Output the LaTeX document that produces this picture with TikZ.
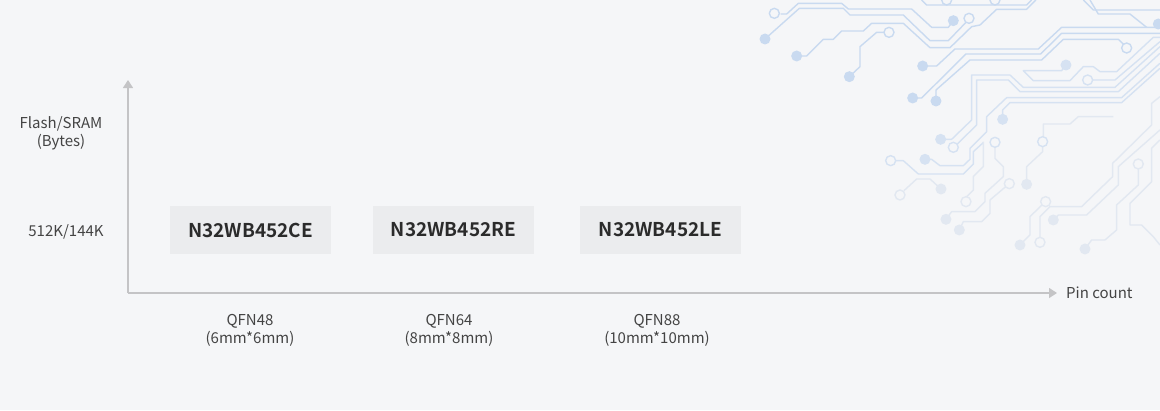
\documentclass[tikz,border=0pt]{standalone}
\usepackage{fontspec}
\setmainfont{Noto Sans CJK SC}[BoldFont={Noto Sans CJK SC Bold}]
\definecolor{bgc}{HTML}{F5F6F8}
\definecolor{boxc}{HTML}{EBECEE}
\definecolor{axisc}{HTML}{C4C4C6}
\definecolor{txtc}{HTML}{444444}
\definecolor{boldc}{HTML}{2B2B2B}
\definecolor{ca}{HTML}{C9DAF0}
\definecolor{cb}{HTML}{D6E2F2}
\definecolor{cc}{HTML}{E2E8F1}
\usetikzlibrary{arrows.meta}
\begin{document}
\begin{tikzpicture}[x=1pt,y=-1pt,
  chip/.style={fill=boxc,minimum width=161pt,minimum height=48pt,inner sep=0pt,font=\fontsize{19}{23}\selectfont\bfseries,text=boldc},
  lab/.style={font=\fontsize{15}{19}\selectfont,text=txtc,align=center,inner sep=0pt},
  axisline/.style={draw=axisc,line width=1.2pt,-{Triangle[width=10pt,length=8pt]}},
  trace/.style={line width=1.4pt,line join=round},
  padopen/.style={circle,draw=#1,line width=1.4pt,fill=bgc,minimum size=10pt,inner sep=0pt},
  padfill/.style={circle,fill=#1,minimum size=11pt,inner sep=0pt}]
\fill[bgc] (0,0) rectangle (1160,410);
\useasboundingbox (0,0) rectangle (1160,410);
% circuit decoration
\begin{scope}[xshift=750pt,x=0.3333pt,y=-0.3333pt]
\begin{scope}[trace,draw=ca]
\draw (92,42)--(110,42)--(145,10)--(275,10)--(295,27)--(485,27)--(545,82)--(595,82)--(610,62);
\draw (45,117)--(148,25)--(280,25)--(300,45)--(460,45)--(540,122)--(595,122)--(650,65);
\draw (140,168)--(170,168)--(220,118)--(250,118)--(275,93)--(340,93)--(365,70)--(460,70)--(540,143)--(600,143)--(665,80)--(690,75)--(740,28)--(830,28)--(858,0);
\draw (403,97)--(380,97)--(330,140)--(330,200)--(298,230);
\draw (518,198)--(560,198)--(615,147)--(865,147)--(935,82)--(1230,82);
\draw (488,294)--(515,294)--(648,162)--(872,162)--(935,100)--(1230,100);
\draw (558,303)--(558,270)--(660,180)--(875,180)--(940,118)--(1105,118)--(1120,132);
\draw (515,0)--(530,15)--(830,15)--(845,0);
\draw (1000,0)--(1030,30)--(1230,30);
\draw (1020,0)--(1045,42)--(1140,42)--(1190,82);
\end{scope}
\begin{scope}[trace,draw=cb]
\draw (948,195)--(935,212)--(820,212)--(850,242)--(960,242)--(1000,200)--(1030,200)--(1050,215)--(1100,215)--(1210,112)--(1230,112);
\draw (1028,240)--(1095,240)--(1230,125);
\draw (572,418)--(605,418)--(665,360)--(665,225)--(780,225)--(820,262)--(1095,262)--(1230,140);
\draw (622,432)--(680,375)--(680,240)--(775,240)--(810,275)--(1105,275)--(1230,160);
\draw (758,345)--(758,330)--(780,308)--(1115,308)--(1230,205);
\draw (525,478)--(545,478)--(570,497)--(640,497)--(660,478)--(660,445)--(710,395)--(710,350)--(770,293)--(1115,293)--(1230,190);
\draw (436,482)--(460,482)--(505,522)--(640,522)--(670,492)--(670,455)--(700,428);
\end{scope}
\begin{scope}[trace,draw=cc]
\draw (648,592)--(670,570)--(670,530)--(700,500)--(700,425);
\draw (735,441)--(735,475)--(760,500)--(760,530)--(705,580)--(705,605)--(675,635)--(605,635)--(588,658);
\draw (766,561)--(720,600)--(720,640)--(695,665)--(640,665)--(628,690);
\draw (462,572)--(500,537)--(540,537)--(573,567);
\draw (1090,350)--(985,350)--(960,372)--(880,372)--(880,412);
\draw (878,439)--(878,455)--(830,500)--(830,553);
\draw (1230,290)--(1205,310)--(1205,375)--(1088,490)--(1088,530)--(995,620)--(900,620)--(870,650)--(870,713);
\draw (810,735)--(840,705)--(840,650)--(876,615);
\draw (910,660)--(925,645)--(1010,645)--(1105,555)--(1105,500)--(1230,390);
\draw (1165,506)--(1165,555)--(1100,615)--(1100,690)--(1065,720)--(1025,720)--(1005,747);
\draw (1230,420)--(1205,445)--(1205,545)--(1140,610)--(1140,675)--(1175,675)--(1210,710)--(1230,735);
\end{scope}
% pads
\foreach \p in {(73,40),(657,55),(417,97),(1130,144),(590,0),(735,0)} \node[padopen=ca] at \p {};
\foreach \p in {(1013,240),(610,442),(735,427),(878,425),(422,482)} \node[padopen=cb] at \p {};
\foreach \p in {(450,585),(648,605),(778,551),(887,605),(870,727),(1165,492)} \node[padopen=cc] at \p {};
\foreach \p in {(610,62),(45,117),(140,168),(298,230),(518,198),(488,294),(558,303),(1225,72)} \node[padfill=ca] at \p {};
\foreach \p in {(948,195),(758,358),(572,418),(525,478)} \node[padfill=cb] at \p {};
\foreach \p in {(573,567),(588,658),(628,690),(830,553),(910,660),(810,735),(1005,747)} \node[padfill=cc] at \p {};
\end{scope}
% axes
\coordinate (o) at (128,293);
\coordinate (ytop) at (128,80);
\coordinate (xend) at (1057,293);
\draw[axisline] (o) -- (ytop);
\draw[axisline] (o) -- (xend);
% labels
\node[lab] (ylab) at (61,133) {Flash/SRAM\\[-1pt](Bytes)};
\node[lab] (mem) at (66,232) {512K/144K};
\node[lab,anchor=west] (pin) at (1066,293) {Pin count};
% chips
\node[chip] (c1) at (250.5,230) {N32WB452CE};
\node[chip] (c2) at (453.5,230) {N32WB452RE};
\node[chip] (c3) at (660.5,230) {N32WB452LE};
\node[lab] (p1) at (250,330) {QFN48\\[-1pt](6mm*6mm)};
\node[lab] (p2) at (449,330) {QFN64\\[-1pt](8mm*8mm)};
\node[lab] (p3) at (657,330) {QFN88\\[-1pt](10mm*10mm)};
\end{tikzpicture}
\end{document}
